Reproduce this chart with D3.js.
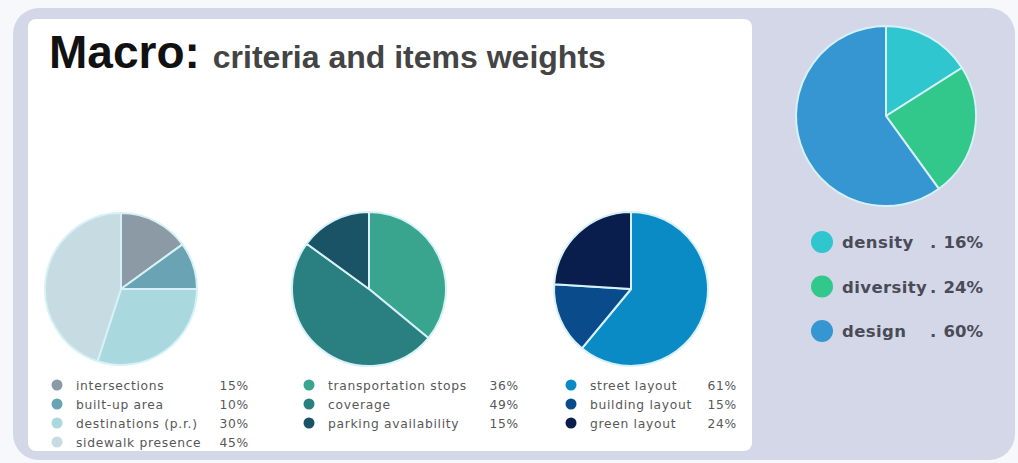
<!DOCTYPE html>
<html><head><meta charset="utf-8">
<script src="https://cdn.jsdelivr.net/npm/d3@7"></script>
<style>html,body{margin:0;padding:0;background:#f7f8fb;}svg{display:block;}</style>
</head><body>
<svg id="c" width="1018" height="463"></svg>
<script>
// ---- data ----
const walkLabels = ["intersections", "built-up area", "destinations (p.r.)", "sidewalk presence"];
const walkValues = [15, 10, 30, 45];
const walkColors = ["#8b9aa4", "#6aa4b4", "#a9d8df", "#c7dbe2"];

const transLabels = ["transportation stops", "coverage", "parking availability"];
const transValues = [36, 49, 15];
const transColors = ["#3aa58f", "#2a7f80", "#1a5366"];

const layoutLabels = ["street layout", "building layout", "green layout"];
const layoutValues = [61, 15, 24];
const layoutColors = ["#0b8bc5", "#0a4c8b", "#0a1e4e"];

const mainLabels = ["density", "diversity", "design"];
const mainValues = [16, 24, 60];
const mainColors = ["#2fc6d0", "#33c88b", "#3696d1"];

const svg = d3.select("#c");

// background panels
svg.append("rect").attr("x", 13).attr("y", 8).attr("width", 1002).attr("height", 452)
  .attr("rx", 26).attr("fill", "#d3d7e8");
svg.append("rect").attr("x", 28).attr("y", 19).attr("width", 724).attr("height", 432)
  .attr("rx", 8).attr("fill", "#ffffff");

// title
const title = svg.append("text").attr("x", 49).attr("y", 68)
  .attr("font-family", "Liberation Sans, Arial, sans-serif").attr("font-weight", "bold");
title.append("tspan").attr("font-size", 46).attr("fill", "#111").text("Macro:");
title.append("tspan").attr("font-size", 32).attr("fill", "#444").attr("dx", 13).text("criteria and items weights");

const pie = d3.pie().sort(null).value(d => d);

function drawPie(cx, cy, r, values, colors) {
  const arc = d3.arc().innerRadius(0).outerRadius(r);
  const g = svg.append("g").attr("transform", `translate(${cx},${cy})`);
  g.selectAll("path").data(pie(values)).join("path")
    .attr("d", arc)
    .attr("fill", (d, i) => colors[i])
    .attr("stroke", "#d6f2f8").attr("stroke-width", 2).attr("stroke-linejoin", "round");
}

drawPie(121, 289, 76, walkValues, walkColors);
drawPie(369, 289, 77, transValues, transColors);
drawPie(631, 289, 77, layoutValues, layoutColors);
drawPie(886, 116, 90, mainValues, mainColors);

function drawLegend(x0, y0, pctX, labels, values, colors) {
  const y = d3.scaleLinear().domain([0, 1]).range([y0, y0 + 19]);
  const g = svg.append("g").attr("font-family", "DejaVu Sans, Verdana, sans-serif")
    .attr("font-size", 12.3).attr("fill", "#585858");
  labels.forEach((lab, i) => {
    g.append("circle").attr("cx", x0).attr("cy", y(i)).attr("r", 5.5).attr("fill", colors[i]);
    g.append("text").attr("x", x0 + 19).attr("y", y(i) + 4.5).attr("letter-spacing", 0.7).text(lab);
    g.append("text").attr("x", pctX).attr("y", y(i) + 4.5).attr("text-anchor", "end")
      .attr("letter-spacing", 0.7).text(values[i] + "%");
  });
}

drawLegend(57, 385, 249, walkLabels, walkValues, walkColors);
drawLegend(309, 385, 519, transLabels, transValues, transColors);
drawLegend(571, 385, 737, layoutLabels, layoutValues, layoutColors);

// main legend
(function () {
  const y = d3.scaleLinear().domain([0, 1]).range([242, 286.5]);
  const g = svg.append("g").attr("font-family", "DejaVu Sans, Verdana, sans-serif")
    .attr("font-size", 16.5).attr("font-weight", "bold").attr("fill", "#4a4b57");
  mainLabels.forEach((lab, i) => {
    g.append("circle").attr("cx", 822).attr("cy", y(i)).attr("r", 11).attr("fill", mainColors[i]);
    g.append("text").attr("x", 842).attr("y", y(i) + 6).attr("letter-spacing", 0.4).text(lab);
    g.append("text").attr("x", 930).attr("y", y(i) + 6).text(".");
    g.append("text").attr("x", 983).attr("y", y(i) + 6).attr("text-anchor", "end").text(mainValues[i] + "%");
  });
})();
</script>
</body></html>
